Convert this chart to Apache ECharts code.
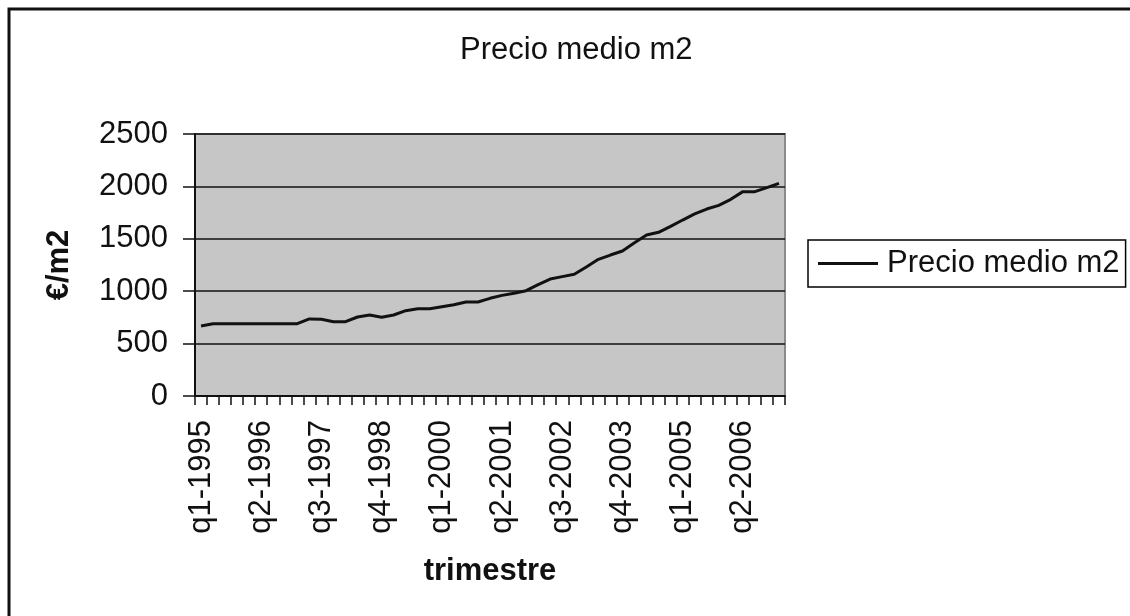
<!DOCTYPE html>
<html>
<head>
<meta charset="utf-8">
<script src="https://cdn.jsdelivr.net/npm/echarts@6/dist/echarts.min.js"></script>
<style>
html,body{margin:0;padding:0;background:#fff;}
#chart{width:1130px;height:616px;}
</style>
</head>
<body>
<div id="chart"></div>
<script>
const quarters = [
  'q1-1995','q2-1995','q3-1995','q4-1995',
  'q1-1996','q2-1996','q3-1996','q4-1996',
  'q1-1997','q2-1997','q3-1997','q4-1997',
  'q1-1998','q2-1998','q3-1998','q4-1998',
  'q1-1999','q2-1999','q3-1999','q4-1999',
  'q1-2000','q2-2000','q3-2000','q4-2000',
  'q1-2001','q2-2001','q3-2001','q4-2001',
  'q1-2002','q2-2002','q3-2002','q4-2002',
  'q1-2003','q2-2003','q3-2003','q4-2003',
  'q1-2004','q2-2004','q3-2004','q4-2004',
  'q1-2005','q2-2005','q3-2005','q4-2005',
  'q1-2006','q2-2006','q3-2006','q4-2006',
  'q1-2007'
];
const precioMedio = [
  668, 690, 690, 690, 690, 690, 690, 690, 690, 735,
  732, 709, 709, 754, 773, 751, 773, 814, 833, 833,
  852, 871, 897, 897, 932, 960, 980, 1005, 1062, 1116,
  1139, 1161, 1231, 1304, 1345, 1384, 1463, 1536, 1562, 1619,
  1679, 1737, 1784, 1819, 1877, 1950, 1950, 1988, 2029
];
const seriesName = 'Precio medio m2';
const titleText = 'Precio medio m2';
const yName = '€/m2';
const xName = 'trimestre';

const FONT = "'Liberation Sans', Arial, sans-serif";
const FS = 31;
const chart = echarts.init(document.getElementById('chart'), null, {renderer: 'canvas'});
chart.setOption({
  animation: false,
  backgroundColor: '#fff',
  textStyle: {fontFamily: FONT, color: '#000'},
  title: {
    text: titleText,
    left: 455,
    top: 30,
    textStyle: {fontFamily: FONT, fontSize: FS, fontWeight: 'normal', color: '#111'}
  },
  legend: {
    left: 808,
    top: 240,
    width: 319,
    orient: 'vertical',
    padding: [8, 6, 8, 10],
    borderColor: '#000',
    borderWidth: 1.5,
    icon: 'rect',
    itemWidth: 60,
    itemHeight: 3,
    itemStyle: {color: '#111'},
    textStyle: {fontFamily: FONT, fontSize: FS, color: '#111', padding: [0, 0, 0, 4]},
    data: [seriesName]
  },
  grid: {
    left: 195, right: 345, top: 134, bottom: 220,
    show: true,
    backgroundColor: '#c6c6c6',
    borderColor: '#8a8a8a',
    borderWidth: 2
  },
  xAxis: {
    type: 'category',
    data: quarters,
    boundaryGap: true,
    name: xName,
    nameLocation: 'middle',
    nameGap: 160,
    nameTextStyle: {fontFamily: FONT, fontSize: FS, fontWeight: 'bold', color: '#111'},
    axisLine: {show: true, lineStyle: {color: '#111', width: 2}},
    axisTick: {show: true, interval: 0, length: 9, lineStyle: {color: '#111', width: 1.5}},
    axisLabel: {interval: 4, rotate: 90, margin: 24, fontFamily: FONT, fontSize: FS, color: '#111'},
    splitLine: {show: false}
  },
  yAxis: {
    type: 'value',
    min: 0,
    max: 2500,
    interval: 500,
    name: yName,
    nameLocation: 'middle',
    nameGap: 120,
    nameRotate: 90,
    nameTextStyle: {fontFamily: FONT, fontSize: FS, fontWeight: 'bold', color: '#111'},
    axisLine: {show: true, lineStyle: {color: '#111', width: 2}},
    axisTick: {show: true, length: 12, lineStyle: {color: '#111', width: 1.5}},
    axisLabel: {margin: 27, fontFamily: FONT, fontSize: FS, color: '#111', formatter: function (v) { return String(v); }},
    splitLine: {show: true, lineStyle: {color: '#111', width: 1.5}}
  },
  series: [{
    name: seriesName,
    type: 'line',
    data: precioMedio,
    symbol: 'none',
    lineStyle: {color: '#111', width: 3},
    itemStyle: {color: '#111'}
  }],
  graphic: [{
    type: 'polyline',
    shape: {points: [[9, 616], [9, 9], [1130, 9]]},
    style: {stroke: '#111', lineWidth: 3, fill: null},
    silent: true
  }]
});
</script>
</body>
</html>
